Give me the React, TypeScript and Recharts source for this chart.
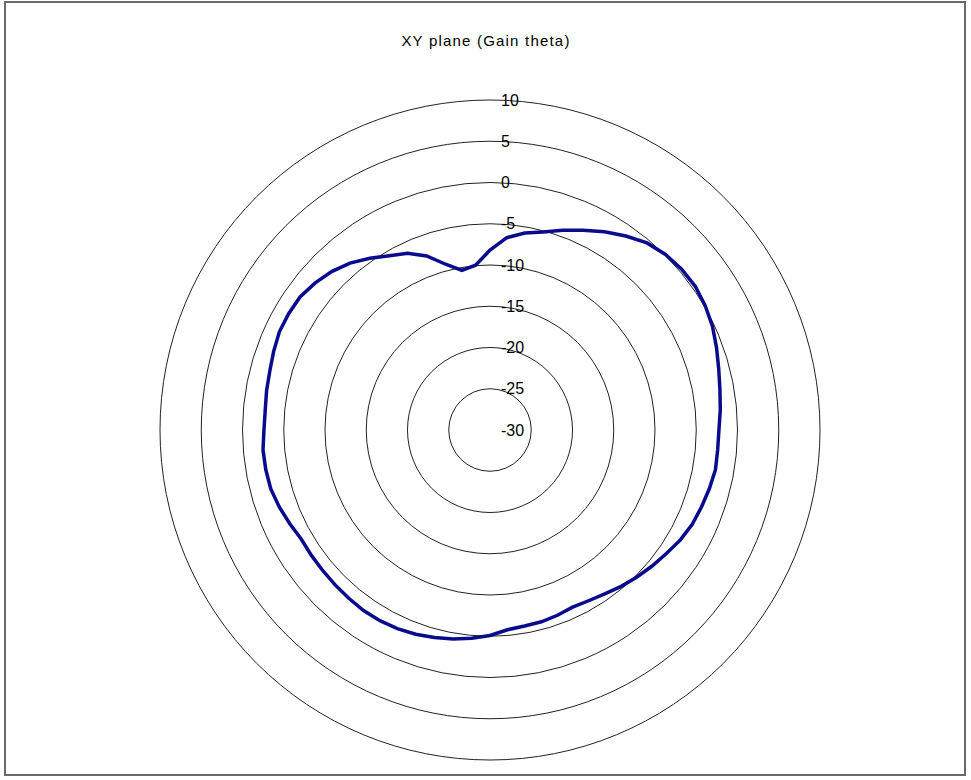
import React from "react";
import { RadarChart, Radar, PolarGrid, PolarAngleAxis, PolarRadiusAxis } from "recharts";

const TITLE = "XY plane (Gain theta)";

// azimuth angle in degrees (0 = top, clockwise)
const angles = [
  0, 5, 10, 15, 20, 25, 30, 35, 40, 45, 50, 55, 60, 65, 70, 75, 80, 85,
  90, 95, 100, 105, 110, 115, 120, 125, 130, 135, 140, 145, 150, 155, 160, 165, 170, 175,
  180, 185, 190, 195, 200, 205, 210, 215, 220, 225, 230, 235, 240, 245, 250, 255, 260, 265,
  270, 275, 280, 285, 290, 295, 300, 305, 310, 315, 320, 325, 330, 335, 340, 345, 350, 355,
];

// gain theta in dB
const gainTheta = [
  -8.2, -6.6, -5.75, -5.15, -4.25, -3.27, -2.25, -1.3, -0.4, 0.08, 0.32, 0.37, 0.12, -0.25, -0.78, -1.3, -1.7, -1.98,
  -2.25, -2.3, -2.25, -2.48, -2.72, -2.95, -3.35, -3.9, -4.35, -4.8, -5.26, -5.75, -6.1, -6.3, -6.1, -5.93, -5.88, -5.7,
  -5.1, -4.65, -4.28, -3.95, -3.65, -3.43, -3.32, -3.28, -3.37, -3.45, -3.52, -3.55, -3.57, -3.2, -2.8, -2.48, -2.4, -2.38,
  -2.6, -2.65, -2.5, -2.37, -2.1, -1.83, -1.82, -1.89, -2.3, -2.85, -3.59, -4.6, -5.6, -6.35, -7.55, -9.2, -10.35, -9.95,
];

const radiusTicks = [-30, -25, -20, -15, -10, -5, 0, 5, 10];

const data = angles.map((a, i) => ({ angle: a, gain: gainTheta[i] }));

const RadiusTick = (props: any) => {
  const { x, y, payload } = props;
  return (
    <text x={x + 11} y={y} dy="0.35em" textAnchor="start" fontSize={16} fill="#000"
      fontFamily="'Liberation Sans', Arial, sans-serif">
      {payload.value}
    </text>
  );
};

export default function App() {
  return (
    <div style={{ position: "absolute", left: 0, top: 0, width: 971, height: 780, background: "#fff" }}>
      <div style={{ position: "absolute", left: 4, top: 1, width: 962, height: 775, border: "2px solid #6a6a6a", boxSizing: "border-box" }} />
      <div style={{ position: "absolute", left: 0, top: 0 }}>
        <RadarChart width={971} height={780} cx={490} cy={430} outerRadius={330} innerRadius={0}
          data={data} startAngle={90} endAngle={-270}
          margin={{ top: 0, right: 0, bottom: 0, left: 0 }}
          style={{ fontFamily: "'Liberation Sans', Arial, sans-serif" }}>
          <text x={486} y={42} textAnchor="middle" dominantBaseline="middle" fontSize={15} letterSpacing={1.2}
            fill="#000" fontFamily="'Liberation Sans', Arial, sans-serif">{TITLE}</text>
          <PolarGrid gridType="circle" radialLines={false} stroke="#222" strokeWidth={1} />
          <PolarAngleAxis dataKey="angle" type="number" domain={[0, 360]} tick={false} tickLine={false} axisLine={false} />
          <PolarRadiusAxis angle={90} type="number" domain={[-30, 10]} ticks={radiusTicks as any}
            tick={<RadiusTick />} tickLine={false} axisLine={false} allowDataOverflow />
          <Radar dataKey="gain" stroke="#0a0a8c" strokeWidth={3.5} fill="none" fillOpacity={0}
            isAnimationActive={false} dot={false} />
        </RadarChart>
      </div>
    </div>
  );
}
